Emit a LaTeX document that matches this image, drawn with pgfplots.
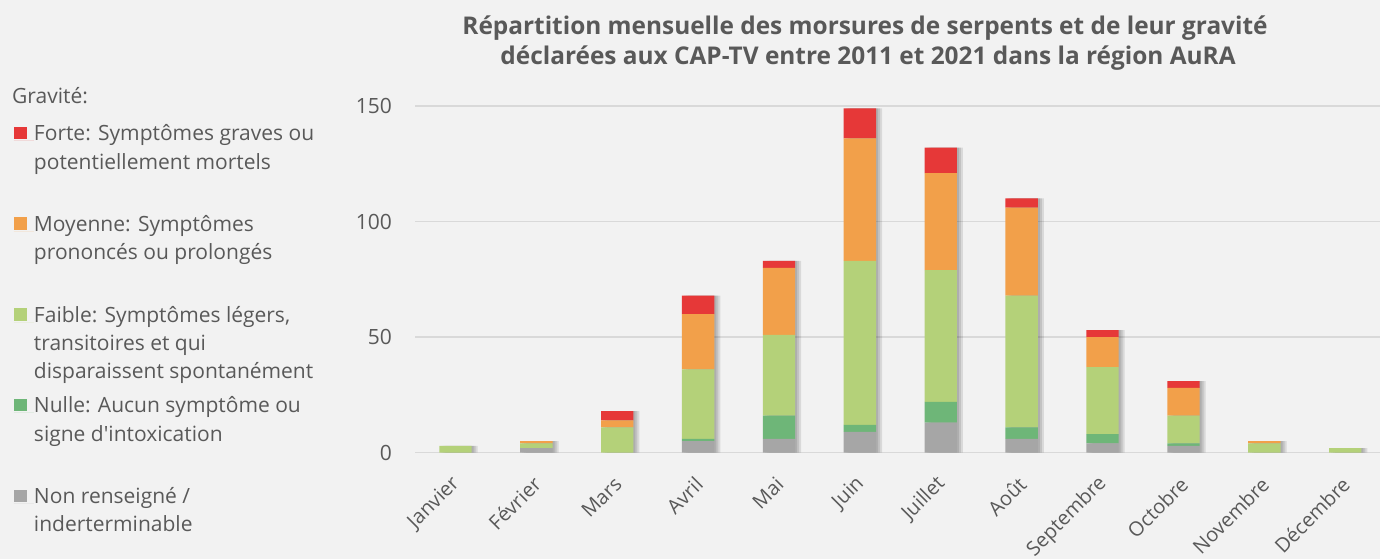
\documentclass[border=0pt]{standalone}
\usepackage{pgfplots}
\pgfplotsset{compat=1.18}
\usepackage{fontspec}
\setmainfont{Open Sans}[Ligatures=TeXOff]
\definecolor{bg}{HTML}{F2F2F2}
\definecolor{txt}{HTML}{595959}
\definecolor{gridc}{HTML}{D9D9D9}
\definecolor{cforte}{HTML}{E63838}
\definecolor{cmoy}{HTML}{F2A04A}
\definecolor{cfaible}{HTML}{B4D179}
\definecolor{cnulle}{HTML}{6EB678}
\definecolor{cnr}{HTML}{A6A6A6}
\newcommand\fs{\fontsize{21bp}{28.4bp}\selectfont}
\newcommand\fsx{\fontsize{20bp}{24bp}\selectfont}
\newcommand\lentry[1]{\parbox[t]{330bp}{\raggedright\rule{0pt}{20bp}#1}}
\pgfplotsset{base/.style={
  at={(415bp,106.3bp)}, anchor=south west,
  width=965bp, height=346.7bp, scale only axis,
  xmin=-0.5, xmax=11.43, ymin=0, ymax=150,
  axis line style={draw=none}, major tick length=0pt,
}}
\begin{document}
\begin{tikzpicture}
\fill[bg] (0bp,0bp) rectangle (1380bp,559bp);
% shadow + grid axis
\begin{axis}[base,
  xtick=\empty, ytick={0,50,100,150}, yticklabels={},
  ymajorgrids, grid style={gridc, line width=1.4bp},
  ybar, bar width=0.4]
\addplot[fill=black, opacity=0.1, draw=none, bar shift=2bp] coordinates {(0,3) (1,5) (2,18) (3,68) (4,83) (5,149) (6,132) (7,110) (8,53) (9,31) (10,5) (11,2)};
\addplot[fill=black, opacity=0.1, draw=none, bar shift=4bp] coordinates {(0,3) (1,5) (2,18) (3,68) (4,83) (5,149) (6,132) (7,110) (8,53) (9,31) (10,5) (11,2)};
\addplot[fill=black, opacity=0.1, draw=none, bar shift=6bp] coordinates {(0,3) (1,5) (2,18) (3,68) (4,83) (5,149) (6,132) (7,110) (8,53) (9,31) (10,5) (11,2)};
\end{axis}
% main axis
\begin{axis}[base,
  ybar stacked, bar width=0.4,
  xtick={0,...,11},
  xticklabels={Janvier,Février,Mars,Avril,Mai,Juin,Juillet,Août,Septembre,Octobre,Novembre,Décembre},
  ytick={0,50,100,150},
  /pgf/number format/assume math mode=true,
  tick label style={font=\fs, text=txt},
  yticklabel style={anchor=east, inner sep=0pt, xshift=-23bp},
  xticklabel style={font=\fsx, anchor=east, inner sep=0pt, xshift=1bp, yshift=-28bp, rotate=45},
  legend image code/.code={\fill[#1] (0bp,1.4bp) rectangle (13bp,14bp); \path (0bp,0bp) -- (20bp,0bp);},
  reverse legend,
  legend style={at={(axis description cs:-0.41554,0.9576)}, anchor=north west,
    draw=none, fill=none, inner sep=0pt, outer sep=0pt, font=\fs, text=txt,
    row sep=70.7bp, column sep=0pt,
    cells={anchor=base west}, nodes={inner sep=0pt, text height=20bp, text depth=0pt}},
]
\addplot[fill=cnr, draw=none] coordinates {(0,0) (1,2) (2,0) (3,5) (4,6) (5,9) (6,13) (7,6) (8,4) (9,3) (10,0) (11,0)};
\addlegendentry{\lentry{Non renseigné /\\inderterminable}}
\addplot[fill=cnulle, draw=none] coordinates {(0,0) (1,0) (2,0) (3,1) (4,10) (5,3) (6,9) (7,5) (8,4) (9,1) (10,0) (11,0)};
\addlegendentry{\lentry{Nulle: Aucun symptôme ou\\signe d'intoxication}}
\addplot[fill=cfaible, draw=none] coordinates {(0,3) (1,2) (2,11) (3,30) (4,35) (5,71) (6,57) (7,57) (8,29) (9,12) (10,4) (11,2)};
\addlegendentry{\lentry{Faible: Symptômes légers,\\transitoires et qui\\disparaissent spontanément}}
\addplot[fill=cmoy, draw=none] coordinates {(0,0) (1,1) (2,3) (3,24) (4,29) (5,53) (6,42) (7,38) (8,13) (9,12) (10,1) (11,0)};
\addlegendentry{\lentry{Moyenne: Symptômes\\prononcés ou prolongés}}
\addplot[fill=cforte, draw=none] coordinates {(0,0) (1,0) (2,4) (3,8) (4,3) (5,13) (6,11) (7,4) (8,3) (9,3) (10,0) (11,0)};
\addlegendentry{\lentry{Forte: Symptômes graves ou\\potentiellement mortels}}
\end{axis}
\node[anchor=base west, inner sep=0pt, text=txt, font=\fs] at (12bp,455.7bp) {Gravité:};
\node[anchor=base, inner sep=0pt, text=txt, font=\bfseries\fontsize{24.4bp}{30bp}\selectfont] at (865bp,524bp) {Répartition mensuelle des morsures de serpents et de leur gravité};
\node[anchor=base, inner sep=0pt, text=txt, font=\bfseries\fontsize{24.4bp}{30bp}\selectfont] at (868bp,494bp) {déclarées aux CAP-TV entre 2011 et 2021 dans la région AuRA};
\pgfresetboundingbox
\path[use as bounding box] (0bp,0bp) rectangle (1380bp,559bp);
\end{tikzpicture}
\end{document}
